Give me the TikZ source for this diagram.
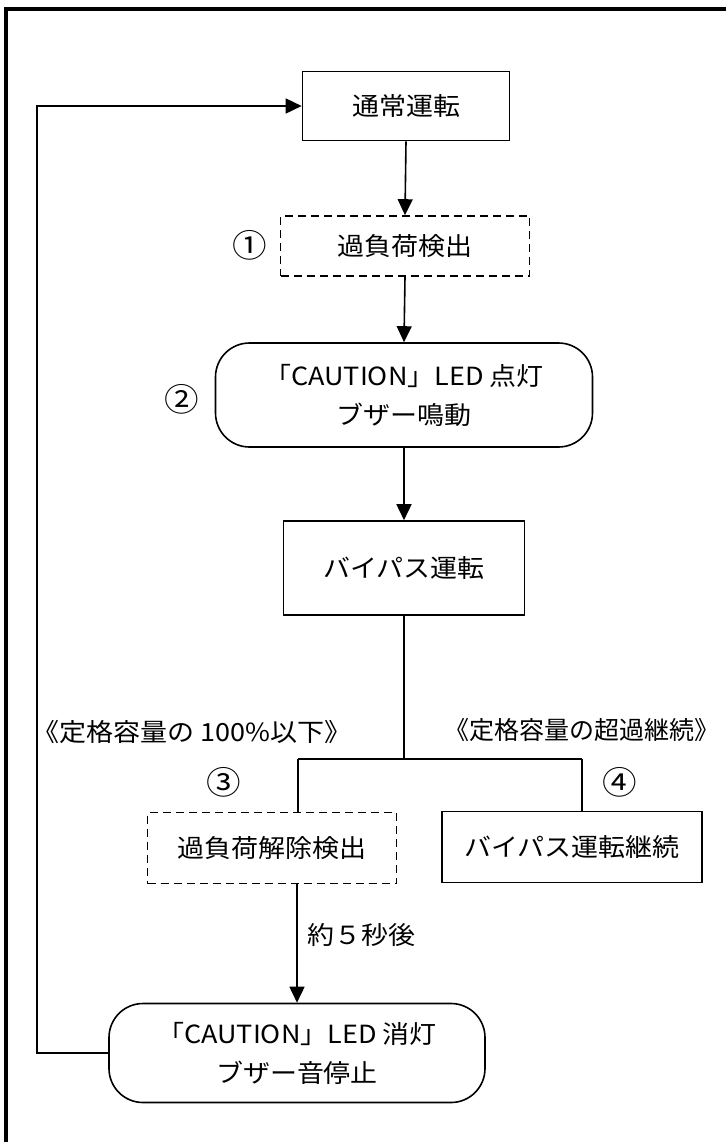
\documentclass[tikz,border=0pt]{standalone}
\usepackage{fontspec}
\setmainfont[FakeStretch=1.08]{Noto Sans CJK JP}
\usetikzlibrary{positioning, calc, arrows.meta}

\tikzset{
  box/.style={draw, line width=0.8pt, inner sep=0pt, align=center},
  dashbox/.style={box, dash pattern=on 4pt off 2.5pt},
  roundbox/.style={box, rounded corners=17pt},
  arr/.style={line width=0.8pt, -{Triangle[length=8pt,width=7.5pt]}},
  conn/.style={line width=0.8pt},
  stepno/.style={font=\fontsize{16pt}{16pt}\selectfont},
}

\begin{document}
\begin{tikzpicture}[x=0.5pt, y=-0.5pt, font=\fontsize{12.5pt}{19.5pt}\selectfont]

        % Page frame
        \useasboundingbox (0,0) rectangle (726,1142);
        \draw[line width=1.6pt] (6,1142) -- (6,9) -- (726,9);

        % Main column
        \node[box, minimum width=103.5pt, minimum height=34.5pt] (normal) at (406,106) {通常運転};
        \node[dashbox, minimum width=124.5pt, minimum height=30pt] (detect) at (405,246) {過負荷検出};
        \node[roundbox, minimum width=188.5pt, minimum height=52pt] (caution) at (404,395) {「CAUTION」LED 点灯\\ブザー鳴動};
        \node[box, minimum width=120.5pt, minimum height=47pt] (bypass) at (404,568) {バイパス運転};

        % Branches
        \node[dashbox, minimum width=124.5pt, minimum height=35.5pt] (release) at (272,848) {過負荷解除検出};
        \node[box, minimum width=130pt, minimum height=35.5pt] (cont) at (572,847) {バイパス運転継続};
        \node[roundbox, minimum width=188pt, minimum height=49.5pt] (stop) at (297,1053) {「CAUTION」LED 消灯\\ブザー音停止};

        % Step numbers
        \node[stepno] (n1) at (250,245) {①};
        \node[stepno] (n2) at (182,399) {②};
        \node[stepno] (n3) at (224,782) {③};
        \node[stepno] (n4) at (620,782) {④};

        % Condition labels
        \node (lowlbl) at (192,732) {《定格容量の 100\%以下》};
        \node (overlbl) at (582,730) {\addfontfeatures{FakeStretch=1.0}《定格容量の超過継続》};
        \node[right] (waitlbl) at (300,935) {約５秒後};

        % Junction points
        \coordinate (split) at (404,759);
        \coordinate (lj) at (298,759);
        \coordinate (rj) at (582,759);
        \coordinate (back) at (37,1053);

        % Connectors
        \draw[arr] (normal.south) -- (detect.north);
        \draw[arr] (detect.south) -- (caution.north);
        \draw[arr] (caution.south) -- (bypass.north);
        \draw[conn] (bypass.south) -- (split);
        \draw[conn] (lj) -- (rj);
        \draw[conn] (lj) -- (lj |- release.north);
        \draw[conn] (rj) -- (rj |- cont.north);
        \draw[arr] (release.south -| stop.north) -- (stop.north);
        \draw[arr] (stop.west) -- (back) |- (normal.west);

\end{tikzpicture}
\end{document}
